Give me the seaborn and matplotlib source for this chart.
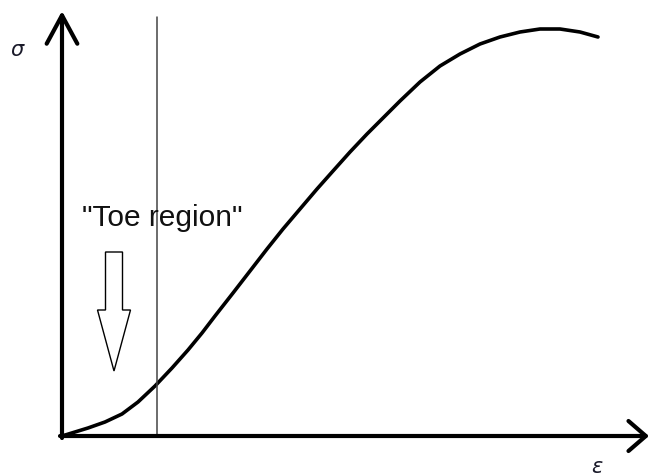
import matplotlib.pyplot as plt
import matplotlib.patches as mpatches
import seaborn as sns
import pandas as pd

# stress-strain curve (arbitrary units)
strain = [0.00, 0.13, 0.26, 0.43, 0.60, 0.76, 0.93, 1.10, 1.26, 1.40,
          1.53, 1.71, 1.88, 2.05, 2.21, 2.38, 2.55, 2.71, 2.88, 3.05,
          3.25, 3.38, 3.58, 3.78, 3.98, 4.18, 4.38, 4.58, 4.78, 4.98,
          5.18, 5.36]
stress = [0.00, 0.04, 0.08, 0.14, 0.22, 0.34, 0.50, 0.68, 0.86, 1.03,
          1.20, 1.43, 1.65, 1.87, 2.07, 2.27, 2.47, 2.65, 2.84, 3.02,
          3.22, 3.35, 3.54, 3.70, 3.82, 3.92, 3.99, 4.04, 4.07, 4.07,
          4.04, 3.99]
toe_limit = 0.95
label_text = '"Toe region"'

df = pd.DataFrame({"strain": strain, "stress": stress})

sns.set_theme(style="white")
fig = plt.figure(figsize=(6.51, 4.77), dpi=100)
ax = fig.add_axes([0, 0, 1, 1])
ax.set_xlim(-0.62, 5.89)
ax.set_ylim(-0.40, 4.37)
ax.axis("off")

sns.lineplot(data=df, x="strain", y="stress", color="black", lw=2.6,
             sort=False, ax=ax)

# boundary of toe region
ax.plot([toe_limit, toe_limit], [0, 4.19], color="#444444", lw=1.1)

# axes with open arrowheads
ax.annotate("", xy=(0, 4.25), xytext=(0, -0.02),
            arrowprops=dict(arrowstyle="->,head_length=1.7,head_width=0.92",
                            lw=3, color="black", shrinkA=0, shrinkB=0))
ax.annotate("", xy=(5.87, 0), xytext=(-0.02, 0),
            arrowprops=dict(arrowstyle="->,head_length=1.04,head_width=0.9",
                            lw=3, color="black", shrinkA=0, shrinkB=0))

ax.text(-0.44, 3.87, r"$\sigma$", fontsize=15, ha="center", va="center",
        color="#1a1a2a")
ax.text(5.35, -0.30, r"$\varepsilon$", fontsize=15, ha="center", va="center",
        color="#1a1a2a")
ax.text(1.0, 2.19, label_text, fontsize=21.5, family="Liberation Sans",
        ha="center", va="center", color="#111111")

arrow = mpatches.FancyArrow(0.52, 1.84, 0, -1.19, width=0.17,
                            head_width=0.33, head_length=0.61,
                            length_includes_head=True, fill=False,
                            lw=1, ec="black")
ax.add_patch(arrow)

fig.savefig("out.png", dpi=100)
